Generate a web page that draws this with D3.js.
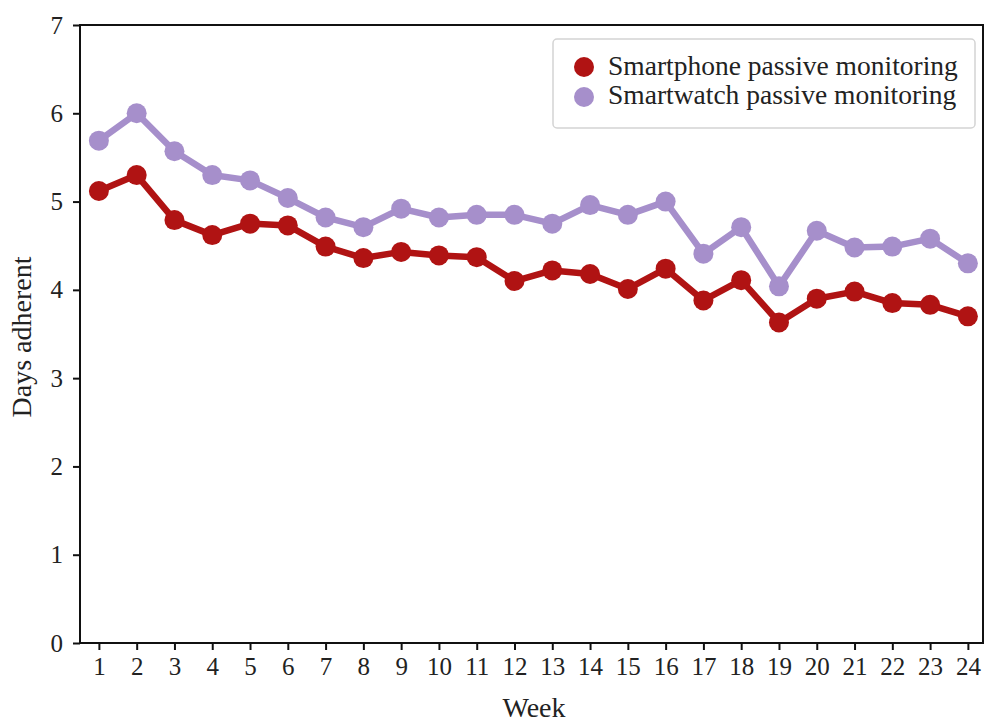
<!DOCTYPE html>
<html><head><meta charset="utf-8">
<script src="https://cdn.jsdelivr.net/npm/d3@7"></script>
<style>body{margin:0;background:#fff}svg{display:block}text{font-family:"Liberation Serif","Times New Roman",serif;fill:#222}</style>
</head><body>
<svg id="c" width="985" height="725"></svg>
<script>
const weeks = d3.range(1, 25);
const smartphone = [5.12,5.30,4.79,4.62,4.75,4.73,4.49,4.36,4.43,4.39,4.37,4.10,4.22,4.18,4.01,4.24,3.88,4.11,3.63,3.90,3.98,3.85,3.83,3.70];
const smartwatch = [5.69,6.00,5.57,5.30,5.24,5.04,4.82,4.71,4.92,4.82,4.85,4.85,4.75,4.96,4.85,5.00,4.41,4.71,4.04,4.67,4.48,4.49,4.58,4.30];
const yTicks = [0,1,2,3,4,5,6,7];
const seriesNames = ["Smartphone passive monitoring","Smartwatch passive monitoring"];
const colors = ["#b01313","#a68fcb"];

const svg = d3.select("#c");
const L = 80, R = 983, T = 25, B = 643;
const x = d3.scaleLinear().domain([0.5, 24.4]).range([L, R]);
const y = d3.scaleLinear().domain([0, 7]).range([B, T]);

// frame
svg.append("rect").attr("x", L).attr("y", T).attr("width", R - L).attr("height", B - T)
  .attr("fill", "none").attr("stroke", "#111").attr("stroke-width", 2);

const xa = svg.append("g").attr("transform", `translate(0,${B})`)
  .call(d3.axisBottom(x).tickValues(weeks).tickFormat(d3.format("d")).tickSize(7).tickPadding(7));
const ya = svg.append("g").attr("transform", `translate(${L},0)`)
  .call(d3.axisLeft(y).tickValues(yTicks).tickFormat(d3.format("d")).tickSize(7).tickPadding(10));
[xa, ya].forEach(a => {
  a.select(".domain").remove();
  a.selectAll(".tick line").attr("stroke", "#111").attr("stroke-width", 2);
  a.selectAll(".tick text").style("font-size", "25px").attr("fill", "#222");
});

svg.append("text").attr("x", 534).attr("y", 717).attr("text-anchor", "middle").style("font-size", "28px").text("Week");
svg.append("text").attr("transform", "translate(31,337) rotate(-90)").attr("text-anchor", "middle").style("font-size", "28px").text("Days adherent");

const line = d3.line().x((d, i) => x(weeks[i])).y(d => y(d));
[smartwatch, smartphone].forEach((s, k) => {
  const c = k === 0 ? colors[1] : colors[0];
  svg.append("path").datum(s).attr("d", line).attr("fill", "none").attr("stroke", c).attr("stroke-width", 6.5).attr("stroke-linejoin", "round");
  svg.append("g").selectAll("circle").data(s).join("circle")
    .attr("cx", (d, i) => x(weeks[i])).attr("cy", d => y(d)).attr("r", 10).attr("fill", c);
});

// legend
const lg = svg.append("g");
lg.append("rect").attr("x", 553).attr("y", 39).attr("width", 422).attr("height", 89).attr("rx", 4)
  .attr("fill", "#fff").attr("stroke", "#d4d4d4").attr("stroke-width", 1.5);
seriesNames.forEach((n, i) => {
  lg.append("circle").attr("cx", 584).attr("cy", 67 + i * 30).attr("r", 10).attr("fill", colors[i]);
  lg.append("text").attr("x", 608).attr("y", 75 + i * 29).style("font-size", "27.5px").text(n);
});
</script>
</body></html>
